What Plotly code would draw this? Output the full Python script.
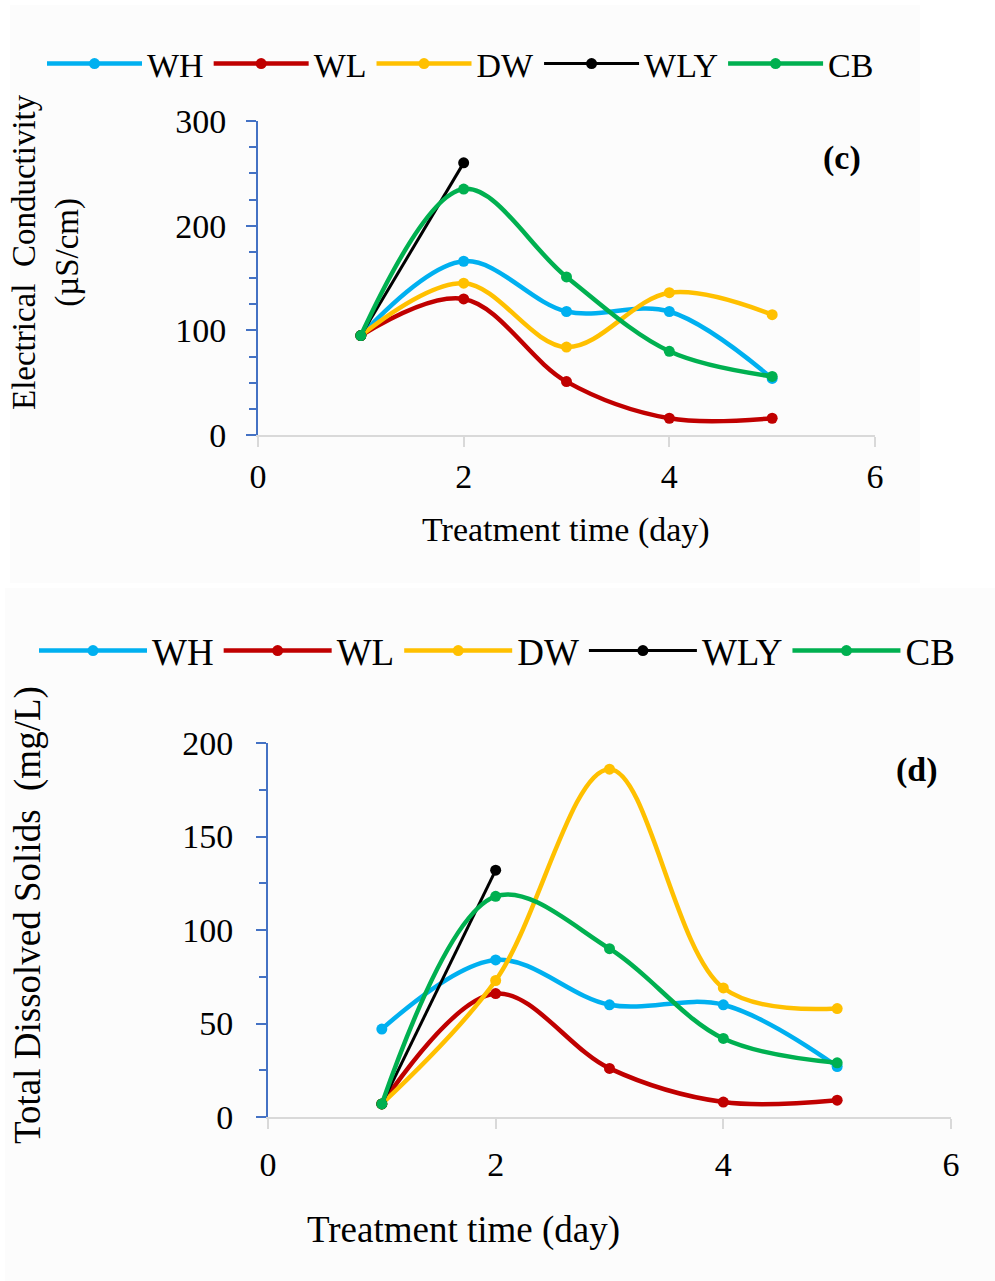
import plotly.graph_objects as go

days = [1, 2, 3, 4, 5]
series_names = ["WH", "WL", "DW", "WLY", "CB"]
colors = ["#00B0F0", "#C00000", "#FFC000", "#000000", "#00B050"]

# (c) Electrical Conductivity (µS/cm)
ec_WH = [95, 166, 118, 118, 54]
ec_WL = [95, 130, 51, 16, 16]
ec_DW = [95, 145, 84, 136, 115]
ec_WLY = [95, 260]
ec_CB = [95, 235, 151, 80, 56]

# (d) Total Dissolved Solids (mg/L)
tds_WH = [47, 84, 60, 60, 27]
tds_WL = [7, 66, 26, 8, 9]
tds_DW = [7, 73, 186, 69, 58]
tds_WLY = [7, 132]
tds_CB = [7, 118, 90, 42, 29]

ec = [ec_WH, ec_WL, ec_DW, ec_WLY, ec_CB]
tds = [tds_WH, tds_WL, tds_DW, tds_WLY, tds_CB]

FONT = "Liberation Serif, Times New Roman, serif"
W, H = 995, 1281

fig = go.Figure()

for name, col, vals in zip(series_names, colors, ec):
    lw = 3 if name == "WLY" else 4.5
    fig.add_trace(go.Scatter(
        x=days[:len(vals)], y=vals, name=name, mode="lines+markers",
        line=dict(color=col, width=lw, shape="spline", smoothing=1),
        marker=dict(color=col, size=11), xaxis="x", yaxis="y", legend="legend"))

for name, col, vals in zip(series_names, colors, tds):
    lw = 3 if name == "WLY" else 4.5
    fig.add_trace(go.Scatter(
        x=days[:len(vals)], y=vals, name=name, mode="lines+markers",
        line=dict(color=col, width=lw, shape="spline", smoothing=1),
        marker=dict(color=col, size=11), xaxis="x2", yaxis="y2", legend="legend2"))

def px_x(p):
    return p / W

def px_y(p):
    return 1 - p / H

blue = "#4472C4"
grey = "#D9D9D9"
tickfont = dict(family=FONT, size=34, color="black")

xcommon = dict(range=[0, 6], dtick=2, showgrid=False, zeroline=False,
               showline=True, linecolor=grey, linewidth=2, automargin=False,
               ticks="outside", ticklen=10, tickwidth=2, tickcolor=grey,
               tickfont=tickfont)

fig.update_layout(
    width=W, height=H,
    margin=dict(l=0, r=0, t=0, b=0, autoexpand=False),
    paper_bgcolor="white", plot_bgcolor="rgba(0,0,0,0)",
    font=dict(family=FONT, color="black"),
    xaxis=dict(domain=[px_x(258), px_x(875)], anchor="y", ticklabelstandoff=0, **xcommon),
    yaxis=dict(domain=[px_y(435), px_y(121)], anchor="x", range=[0, 300], dtick=100,
               showgrid=False, zeroline=False, showline=True, linecolor=blue, linewidth=2,
               ticks="outside", ticklen=10, tickwidth=2, tickcolor=blue, automargin=False,
               minor=dict(dtick=25, ticks="outside", ticklen=7, tickwidth=2, tickcolor=blue),
               tickfont=tickfont, ticklabelstandoff=13),
    xaxis2=dict(domain=[px_x(268), px_x(951)], anchor="y2", ticklabelstandoff=6, **xcommon),
    yaxis2=dict(domain=[px_y(1117), px_y(743)], anchor="x2", range=[0, 200], dtick=50,
                showgrid=False, zeroline=False, showline=True, linecolor=blue, linewidth=2,
                ticks="outside", ticklen=10, tickwidth=2, tickcolor=blue, automargin=False,
                minor=dict(dtick=25, ticks="outside", ticklen=7, tickwidth=2, tickcolor=blue),
                tickfont=tickfont, ticklabelstandoff=16),
    legend=dict(orientation="h", x=px_x(42), y=px_y(64), xanchor="left", yanchor="middle",
                font=dict(family=FONT, size=34), itemwidth=95, bgcolor="rgba(0,0,0,0)",
                tracegroupgap=0),
    legend2=dict(orientation="h", x=px_x(34), y=px_y(651), xanchor="left", yanchor="middle",
                 font=dict(family=FONT, size=37), itemwidth=108, bgcolor="rgba(0,0,0,0)",
                 tracegroupgap=0),
    showlegend=True,
)

shapes = [
    dict(type="rect", xref="paper", yref="paper", x0=px_x(10), x1=px_x(920),
         y0=px_y(583), y1=px_y(5), fillcolor="#FCFCFC", line=dict(width=0), layer="below"),
    dict(type="rect", xref="paper", yref="paper", x0=px_x(5), x1=1,
         y0=0, y1=px_y(588), fillcolor="#FCFCFC", line=dict(width=0), layer="below"),
]
fig.update_layout(shapes=shapes)

annotations = [
    dict(text="Electrical  Conductivity<br>(µS/cm)", xref="paper", yref="paper",
         x=px_x(46), y=px_y(252), xanchor="center", yanchor="middle", textangle=-90,
         showarrow=False, font=dict(family=FONT, size=33)),
    dict(text="Treatment time (day)", xref="paper", yref="paper",
         x=px_x(566), y=px_y(530), xanchor="center", yanchor="middle",
         showarrow=False, font=dict(family=FONT, size=34)),
    dict(text="<b>(c)</b>", xref="paper", yref="paper",
         x=px_x(842), y=px_y(158), xanchor="center", yanchor="middle",
         showarrow=False, font=dict(family=FONT, size=34)),
    dict(text="Total Dissolved Solids  (mg/L)", xref="paper", yref="paper",
         x=px_x(28), y=px_y(915), xanchor="center", yanchor="middle", textangle=-90,
         showarrow=False, font=dict(family=FONT, size=37)),
    dict(text="Treatment time (day)", xref="paper", yref="paper",
         x=px_x(463), y=px_y(1230), xanchor="center", yanchor="middle",
         showarrow=False, font=dict(family=FONT, size=37)),
    dict(text="<b>(d)</b>", xref="paper", yref="paper",
         x=px_x(917), y=px_y(770), xanchor="center", yanchor="middle",
         showarrow=False, font=dict(family=FONT, size=34)),
]
fig.update_layout(annotations=annotations)

fig.write_html("out.html")
